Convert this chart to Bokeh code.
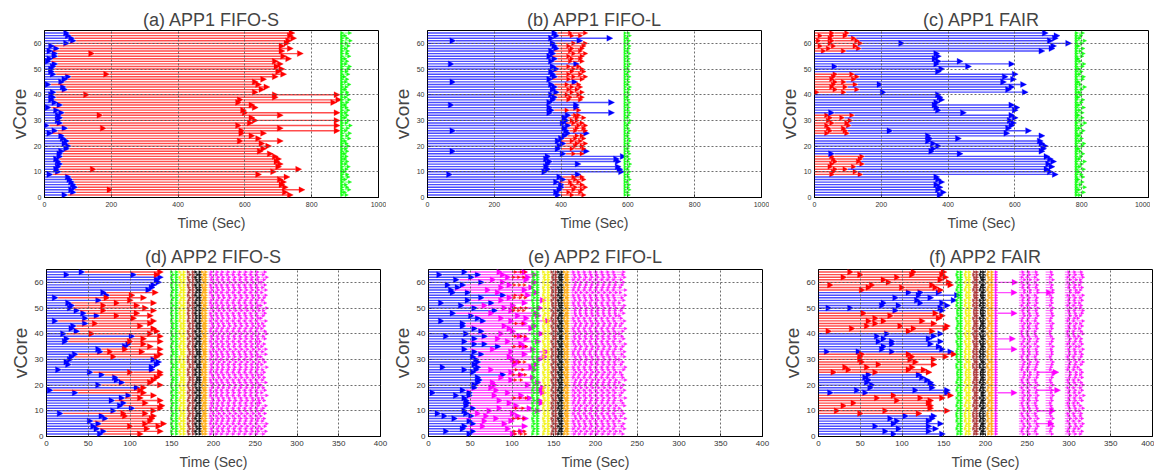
from bokeh.plotting import figure
from bokeh.models import Arrow, NormalHead, ColumnDataSource, Range1d, FixedTicker
from bokeh.layouts import column, row
from bokeh.embed import file_html
from bokeh.resources import INLINE

ROWS = list(range(1, 65))
COLORS = {"blue": "#0000ff", "red": "#ff0000", "green": "#00ff00", "yellow": "#f2f200",
          "brown": "#a52a2a", "black": "#000000", "orange": "#ffa500", "magenta": "#ff00ff"}

# ---------------- (a) APP1 FIFO-S ----------------
A_BLUE = """70 95 90 100 95 90 85 80
25 50 45 50 55 50 45 55
55 60 75 80 70 75 65 60
25 40 70 15 55 50 55 50
60 45 20 55 40 30 35 30
35 70 65 20 60 70 80 35
30 30 35 40 20 25 40 40
25 45 30 75 95 90 80 75"""
A_RED = """745 730 205/780 730 720 725 715 735
650 695 155/770 710 715 705 710 700
685 655 665 680 660 595/715 650 630
600/665 600/885 185/715 590/885 625 640/885 630 175/715
610/885 605 640 630 590/875 595/890 700 135/700/885
640 660 675 650 640 665 700 195/725
710 720 705 715 700 740 725 150/775
720 745 720 735 740 755 745 750"""
A_GREEN = [885, 898]
A_GREEN_END = """910 905 918 912 908 920 906 915
912 904 910 916 908 912 906 910
905 912 908 915 910 906 918 912
920 908 914 922 910 916 906 912
908 915 910 906 912 918 908 915
912 906 910 918 908 912 904 915
910 916 920 908 912 906 918 912
914 908 916 910 922 912 906 920"""

# ---------------- (b) APP1 FIFO-L ----------------
B_BLUE = """400 395 405 410 410 395 415 405
75/460 360/590 370/585 365/580 370/460 375/580 365/575 370/595
415 85/485 400 405 415 400 410 420
430/485 85/425 420 430 415 425 420 430
375/560 380 375/455 80/455 375/560 385 390 380
395 385 390 380 85/450 375 390 385
380 395 385 80/455 380 390 375 385
380 395 390 385 85/465 380/555 395 390"""
B_RED = """440/475 430/465 445/470 450/480 440/470 435/460 450/475 445/470
- - - - - - - -
445/470 - 440/475 450/470 455/480 440/465 450/475 455/470
- 450/480 455/475 460/480 445/470 440/455 455/475 450/460
- 425/460 - - - 430/465 435/470 425/460
440/470 430/455 440/465 425/460 - 430/470 445/480 430/465
440/475 445/470 430/460 - 435/470 440/465 430/470 445/480
435/465 440/470 430/475 445/480 - - 440/465 435/480"""
B_GREEN = [590, 598]
B_GREEN_END = """608 605 610 606 609 604 611 607
606 610 605 608 612 606 609 605
610 607 605 609 606 611 608 605
607 610 606 604 609 612 605 608
611 606 608 605 610 607 604 609
606 609 611 605 608 606 610 604
609 605 607 611 606 608 605 610
605 608 610 606 609 604 611 607"""

# ---------------- (c) APP1 FAIR ----------------
C_RED = """- - - - - - - -
60/145 65/130 70/100 55/125 60/150 70/140 65/145 60/150
- - - - - - - -
45/105 55/100 50/95 45/110 60/105 50/115 55/90 45/120
- - - - - - - -
15/95 70/135 60/100 65/130 70/95 60/125 65/135 70/120
- - - - - - - -
35/95 50/140 25/65/130 55/145 20/60/135 55/125 25/60/100 60/105"""
C_BLUE = """385 395 380 385 375 390 380 375
730 715 705 720 710 725 715 705
60/445 360/690 365/695 380/700 365/690 350/685 355/440 350/690
585 235/650 590 600 605 595 610 600
60/455 380/610 375/615 370/600 375 390 385 380
215/640 590 600 205/635 575 605 580 610
380 390 70/470 375/600 380/445 370 380 375
690 720 725 270/770 715 730 735 700"""
C_GREEN = [778, 792]
C_GREEN_END = """800 812 798 815 802 808 796 810
805 798 812 800 806 815 799 804
810 802 797 808 813 800 806 798
804 811 799 806 816 801 808 797
808 800 812 798 805 810 796 804
799 806 815 802 797 809 812 800
805 798 808 813 801 796 807 811
802 810 797 806 815 800 804 809"""

# ---------------- (d) APP2 FIFO-S ----------------
D_BLUE = """68 72 64 60 66 56 74 70
20 84 106 92 96 82 94 102
38 8 112 66 94 88 86 70
56 18/130 130 30/136 28/138 32/132 34 38
68 66 98 102 26 28 106 24
40 34 36 50 14 50 64 48
40 32 34 30 66 14 76 72
126 130 132 138 136 140 28/108 46"""
D_RED = """116 140 124 104/138 122/144 128 130 98/132
96/122 132 140 142 122 140 116 132
120 116 120 140 128 132 136 140
104/140 - - - - - 84/136 140
80/118 98/140 128 120 104/140 120 140 58/128
136 132 116 62/128 132 108 88/128 112
72/132 122 72/112 88/132 104 76/120 106 134
- - - - - - 136 140"""
D_GREEN = [148, 153, 158]
D_YELLOW = [160, 163, 167]
D_BROWN = [168, 173, 178]
D_BLACK = [178, 182, 186]
D_ORANGE = [186, 190, 193]
D_MAGENTA = [194, 200, 207, 213, 220, 227, 234, 241, 248, 255]
D_MAG_END = """262 265 260 264 266 261 263 259
264 260 262 265 258 263 261 266
260 264 262 259 265 261 263 260
263 261 266 260 264 262 259 265
261 265 260 263 258 264 262 266
264 260 263 261 265 259 262 264
262 266 259 264 261 263 265 260
265 261 264 260 263 266 262 264"""
D_MAG_SHIFT = """0 2 1 3 0 1 2 0
3 1 0 2 1 3 2 0
1 0 2 3 1 0 3 2
0 1 2 1 3 0 2 1
0 3 1 2 0 2 1 3
0 1 3 2 0 2 1 0
3 1 2 0 1 3 2 0
2 1 0 3 1 2 0 1"""
D_STAGE_SHIFT = """1 0 2 1 0 2 0 1
2 1 0 1 2 0 1 2
0 2 1 0 1 2 2 0
1 0 2 2 0 1 0 2
2 1 0 1 2 0 2 1
0 2 1 2 0 1 1 0
1 0 2 0 1 2 0 1
2 1 0 2 1 0 2 0"""

# ---------------- (e) APP2 FIFO-L ----------------
E_BLUE = """53 25/57 45 47 57 53 35 23/55
15/49 47 57 49 51 49 47 37/53
9/53 45 59 59 63 65 63 93
57 47/61 21/63 59 63 61 57 67
59 47 87 59/71 47 59 25/71 49
67 59 45 45 19/69 63 55 33
83 59 43 19/79 51 67 93 33/51
31 39 27/45 67 37 55 17/63 47"""
E_MAG = """105 115 99 69/119 95 71/103 85/120 73/111
63/105 77/135 89/125 109 101/139 89/137 125 83/115
99/141 85/139 79/141 83/123 81/135 103 91/129 115
103 79/131 127 107/133 111 105/137 101/143 119
103/145 81/129 119 115 99/135 87/121 113 91/139
105 101/127 95/131 119 103/147 91/121 111/135 79/133
103 95/137 71/105 119 91/141 101 123 87/133
75/119 91/127 101 93/131 81/121 99/123 93/131 89/119"""
E_RED = """100/107/114/119 100/106/112/118 - - - - 99/105/111/117 -
- - 100/108/116 - - - 99/106/113/120 -
- - - - - 100/107/114 - 99/105/112/119
- 100/108/116 - - 100/106/112/118 - - -
- - 99/106/113/120 - - - 100/107/114/119 -
- - - 100/108/116 - - - -
99/105/111/117 100/107/114/120 - - - 100/106/113/119 99/107/115 -
- - 100/106/112/118 - - 99/105/111/117 - 100/107/114/119"""
E_GREEN = [123, 128, 133]
E_YELLOW = [136, 141, 146]
E_BROWN = [147, 151, 155]
E_BLACK = [155, 159, 162]
E_ORANGE = [163, 166, 169]
E_MAGENTA = [170, 177, 183, 190, 197, 204, 211, 218, 225]
E_MAG_END = """235 232 237 234 236 231 238 233
236 234 231 237 235 233 238 232
234 237 233 236 231 238 235 234
232 236 238 233 235 231 237 234
237 233 235 238 232 236 234 231
235 238 232 234 237 233 231 236
233 235 237 231 236 234 238 232
238 232 234 236 233 237 235 236"""
E_MAG_SHIFT = """1 3 0 2 1 0 3 2
0 2 1 3 0 1 2 0
2 0 3 1 2 3 0 1
3 1 0 2 1 3 2 0
0 2 3 1 0 2 1 3
1 0 2 3 1 0 3 2
2 3 1 0 2 1 0 3
0 1 2 3 0 2 1 0"""
E_STAGE_SHIFT = """0 1 2 0 2 1 0 2
1 2 0 1 0 2 1 0
2 0 1 2 1 0 2 1
0 2 1 0 2 1 0 1
1 0 2 1 0 2 2 0
2 1 0 2 1 0 1 2
0 2 1 1 0 2 0 1
1 0 2 0 2 1 2 0"""

# ---------------- (f) APP2 FAIR ----------------
F_GROUP_COLORS = ["blue", "red", "blue", "red", "blue", "red", "blue", "red"]
F_CHAIN = """94/152 84/136 100/144 72/136 94/150 98/136 90/140 108/142
54/124 26/84/158 138 34/138 46/136 98/138 74/126/152 94/162
18/60/158 50/120/158 66/140 68/140 62/138 64/134 60/128 64/124
22/72/136 40/112/130 36/62/116 76/142 56/120 54/114/142 54/116/156 56/112/166
14/52/92/162 80/152 82/148 92/138 76/92/150 82/136 74/142 86/150
16/112/140 44/118/156 62/102/158 72/142 64/82/128 72/148 90/152 58/144
96/152 16/42/150 80/100/158 82/126/152 122/166 96/138 124/170 112/126/148
56/150 64/104/144 18/68/140/162 88/160 82/150 34/98/156 54/116/152 42/118/154"""
F_GREEN = [165, 169, 173]
F_YELLOW = [176, 179, 183]
F_BROWN = [185, 189, 192]
F_BLACK = [194, 197, 200]
F_ORANGE = [202, 206, 210]
F_MAG_FIRST = [210, 215]
F_MAG_CLUSTER1 = [240, 247, 254, 262]
F_MAG_CLUSTER2 = [272, 280]
F_MAG_CLUSTER3 = [295, 302, 309]
F_MAG_END = """316 318 314 317 319 315 318 316
317 315 319 316 313 318 316 320
315 318 316 319 317 314 318 316
318 316 313 317 319 315 317 318
316 319 315 318 316 317 314 319
317 315 318 316 319 313 316 318
319 316 317 315 318 316 319 314
316 318 315 317 316 319 318 317"""
F_MAG_SHIFT = """2 0 1 3 2 0 3 1
0 3 2 1 0 2 1 3
1 2 0 3 1 0 2 3
3 0 1 2 3 1 0 2
2 1 3 0 2 3 1 0
0 2 1 3 0 1 3 2
1 3 0 2 1 2 0 3
3 1 2 0 3 0 2 1"""
F_STAGE_SHIFT = """1 2 0 1 2 0 1 0
0 1 2 0 1 2 0 2
2 0 1 2 0 1 2 1
1 2 0 0 2 1 0 1
0 1 2 1 0 2 1 0
2 0 1 2 1 0 2 1
1 2 0 1 0 2 1 2
0 1 2 0 2 1 0 1"""
F_LONG_ROWS = [17, 34, 38, 48, 56, 60]
F_LONG_END = [238, 238, 236, 238, 238, 239]
F_GAP_ROWS = [5, 10, 18, 25, 56]
F_GAP_END = [282, 284, 290, 288, 280]

TITLES = ["(a) APP1 FIFO-S", "(b) APP1 FIFO-L", "(c) APP1 FAIR",
          "(d) APP2 FIFO-S", "(e) APP2 FIFO-L", "(f) APP2 FAIR"]
X1_TICKS = [0, 200, 400, 600, 800, 1000]
X2_TICKS = [0, 50, 100, 150, 200, 250, 300, 350, 400]
Y_TICKS = [0, 10, 20, 30, 40, 50, 60]

BIG, SMALL = 6, 3


def parse(block):
    toks = block.split()
    assert len(toks) == 64, len(toks)
    return [[] if t == "-" else [float(v) for v in t.split("/")] for t in toks]


def nums(block):
    toks = block.split()
    assert len(toks) == 64, len(toks)
    return [float(t) for t in toks]


def chain(segs, color, chains, starts, head=BIG):
    out = []
    for i, ch in enumerate(chains):
        x = starts[i]
        for e in ch:
            segs.append((color, x, e, ROWS[i], head))
            x = e
        out.append(x)
    return out


def explicit(segs, color, chains, head=SMALL):
    for i, ch in enumerate(chains):
        for k in range(len(ch) - 1):
            segs.append((color, ch[k], ch[k + 1] - 0.8, ROWS[i], head))


def window(segs, color, bounds, ends=None, head=SMALL, gap=1.0, shift=None):
    for i in range(64):
        b = list(bounds)
        if shift is not None:
            b = [b[0]] + [v + shift[i] for v in b[1:]]
        if ends is not None:
            b = b + [ends[i]]
        for k in range(len(b) - 1):
            e = b[k + 1] - gap if k < len(b) - 2 else b[k + 1]
            segs.append((color, b[k], e, ROWS[i], head))


def build_a():
    s = []
    be = chain(s, "blue", parse(A_BLUE), [0] * 64)
    chain(s, "red", parse(A_RED), be)
    window(s, "green", A_GREEN, nums(A_GREEN_END), head=3.5)
    return s


def build_b():
    s = []
    be = chain(s, "blue", parse(B_BLUE), [0] * 64)
    chain(s, "red", parse(B_RED), be, head=4.5)
    window(s, "green", B_GREEN, nums(B_GREEN_END), head=3)
    return s


def build_c():
    s = []
    re_ = chain(s, "red", parse(C_RED), [0] * 64, head=5)
    chain(s, "blue", parse(C_BLUE), re_)
    window(s, "green", C_GREEN, nums(C_GREEN_END), head=3.5)
    return s


def stages(s, lst, shift):
    for color, bounds in lst:
        # inner boundary shifted per row, final end kept per stage window
        inner = bounds[:-1]
        ends = [bounds[-1]] * 64
        window(s, color, inner, ends, shift=shift)


def build_d():
    s = []
    be = chain(s, "blue", parse(D_BLUE), [0] * 64)
    chain(s, "red", parse(D_RED), be)
    stages(s, [("green", D_GREEN), ("yellow", D_YELLOW), ("brown", D_BROWN),
               ("black", D_BLACK), ("orange", D_ORANGE)], nums(D_STAGE_SHIFT))
    window(s, "magenta", D_MAGENTA, nums(D_MAG_END), shift=nums(D_MAG_SHIFT))
    return s


def build_e():
    s = []
    be = chain(s, "blue", parse(E_BLUE), [0] * 64)
    chain(s, "magenta", parse(E_MAG), be)
    explicit(s, "red", parse(E_RED))
    stages(s, [("green", E_GREEN), ("yellow", E_YELLOW), ("brown", E_BROWN),
               ("black", E_BLACK), ("orange", E_ORANGE)], nums(E_STAGE_SHIFT))
    window(s, "magenta", E_MAGENTA, nums(E_MAG_END), shift=nums(E_MAG_SHIFT))
    return s


def build_f():
    s = []
    ch = parse(F_CHAIN)
    for i in range(64):
        color = F_GROUP_COLORS[i // 8]
        x = 0
        for e in ch[i]:
            s.append((color, x, e, ROWS[i], BIG))
            x = e
    stages(s, [("green", F_GREEN), ("yellow", F_YELLOW), ("brown", F_BROWN),
               ("black", F_BLACK), ("orange", F_ORANGE)], nums(F_STAGE_SHIFT))
    window(s, "magenta", F_MAG_FIRST)
    sh = nums(F_MAG_SHIFT)
    window(s, "magenta", F_MAG_CLUSTER1, shift=sh)
    window(s, "magenta", F_MAG_CLUSTER2, shift=sh)
    window(s, "magenta", F_MAG_CLUSTER3, nums(F_MAG_END), shift=sh)
    for r, e in zip(F_LONG_ROWS, F_LONG_END):
        s.append(("magenta", 215, e, r, BIG))
    for r, e in zip(F_GAP_ROWS, F_GAP_END):
        s.append(("magenta", 262, e, r, BIG))
    return s


def make_fig(title, xmax, xticks, ml, mr, mt, mb, tick_fs, title_standoff):
    p = figure(frame_width=334, frame_height=167, x_range=Range1d(0, xmax), y_range=Range1d(0, 65),
               output_backend="svg", toolbar_location=None, tools="",
               min_border_left=ml, min_border_right=mr, min_border_top=mt, min_border_bottom=mb,
               title=title)
    p.title.align = "center"
    p.title.text_font = "Liberation Sans"
    p.title.text_font_size = "18px"
    p.title.text_font_style = "normal"
    p.title.standoff = title_standoff
    p.xaxis.ticker = FixedTicker(ticks=xticks)
    p.yaxis.ticker = FixedTicker(ticks=Y_TICKS)
    p.xaxis.axis_label = "Time (Sec)"
    p.yaxis.axis_label = "vCore"
    for ax in (p.xaxis, p.yaxis):
        ax.axis_label_text_font = "Liberation Sans"
        ax.axis_label_text_font_style = "normal"
        ax.major_label_text_font = "Liberation Sans"
        ax.major_label_text_font_size = tick_fs
        ax.major_label_text_color = "#333333"
        ax.major_tick_in = 3
        ax.major_tick_out = 0
        ax.minor_tick_line_color = None
        ax.axis_line_color = "black"
        ax.major_tick_line_color = "black"
    p.xaxis.axis_label_text_font_size = "14px"
    p.yaxis.axis_label_text_font_size = "19px"
    p.xaxis.axis_label_standoff = 5
    p.xaxis.major_label_standoff = 4
    p.yaxis.axis_label_standoff = 1
    p.yaxis.major_label_standoff = 3
    p.outline_line_color = "black"
    p.outline_line_width = 1
    for g in (p.xgrid, p.ygrid):
        g.grid_line_color = "#555555"
        g.grid_line_dash = "2 2"
        g.grid_line_alpha = 0.85
        g.level = "overlay"
    p.ygrid.ticker = FixedTicker(ticks=Y_TICKS[1:])
    p.xgrid.ticker = FixedTicker(ticks=xticks[1:-1])
    p.background_fill_color = "white"
    p.border_fill_color = "white"
    return p


def draw(p, segs):
    groups = {}
    for color, x0, x1, y, head in segs:
        groups.setdefault((color, head), {"x0": [], "x1": [], "y": []})
        g = groups[(color, head)]
        g["x0"].append(x0)
        g["x1"].append(x1)
        g["y"].append(y)
    for (color, head), g in groups.items():
        c = COLORS[color]
        src = ColumnDataSource(g)
        small = head <= 3.5
        p.add_layout(Arrow(x_start="x0", y_start="y", x_end="x1", y_end="y", source=src,
                           line_color=c, line_width=1.0 if small else 1.4,
                           line_alpha=0.6 if small else 0.7,
                           end=NormalHead(size=head, fill_color=c, line_color=c,
                                          line_width=0.3, fill_alpha=0.9 if small else 1.0)))


specs = [
    (TITLES[0], 1000, X1_TICKS, 44, 8, 30, 40, "7px", 2, build_a),
    (TITLES[1], 1000, X1_TICKS, 41, 8, 30, 40, "7px", 2, build_b),
    (TITLES[2], 1000, X1_TICKS, 45, 2, 30, 40, "7px", 2, build_c),
    (TITLES[3], 400, X2_TICKS, 46, 8, 32, 35, "8px", 6, build_d),
    (TITLES[4], 400, X2_TICKS, 38, 8, 32, 35, "8px", 6, build_e),
    (TITLES[5], 400, X2_TICKS, 48, 2, 32, 35, "8px", 6, build_f),
]
figs = []
for t, xmax, xt, ml, mr, mt, mb, fs, so, builder in specs:
    p = make_fig(t, xmax, xt, ml, mr, mt, mb, fs, so)
    draw(p, builder())
    figs.append(p)

layout = column(row(figs[0], figs[1], figs[2], spacing=0),
                row(figs[3], figs[4], figs[5], spacing=0), spacing=0)
open("out.html", "w").write(file_html(layout, INLINE))
